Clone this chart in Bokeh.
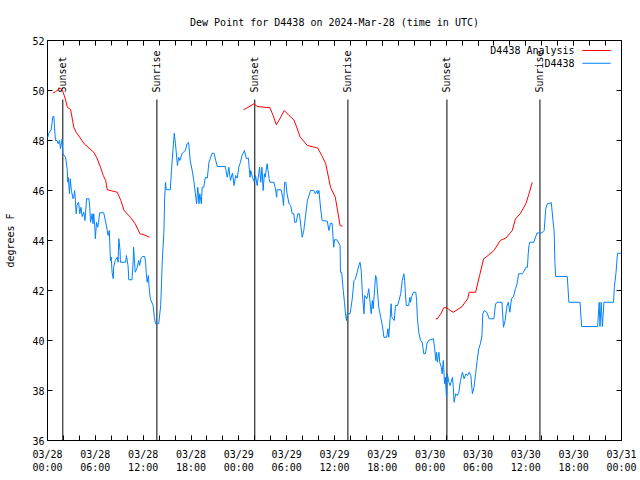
import math
from bokeh.plotting import figure
from bokeh.models import FixedTicker, LinearAxis, Range1d
from bokeh.core.properties import value
from bokeh.embed import file_html
from bokeh.resources import INLINE

NAN = float("nan")

# ---- data (hours since 2024-03-28 00:00 UTC, degrees F) ----
obs_hours = [0.0, 0.16, 0.46, 0.67, 0.8, 0.88, 1.0, 1.2, 1.34, 1.5, 1.63, 1.84, 1.92, 2.26, 2.47, 2.55, 2.6, 2.7,
             2.75, 2.85, 3.0, 3.2, 3.3, 3.4, 3.5, 3.6, 3.7, 3.9, 4.05, 4.2, 4.35, 4.55, 4.7, 4.9, 5.2, 5.3, 5.4,
             5.6, 5.7, 5.8, 5.95, 6.0, 6.15, 6.3, 6.4, 6.55, 7.05, 7.3, 7.5, 7.6, 7.75, 7.9, 8.0, 8.1, 8.25, 8.3,
             8.5, 8.75, 8.85, 8.95, 9.1, 9.15, 9.8, 9.9, 10.1, 10.2, 10.6, 10.75, 10.8, 11.0, 11.2, 11.45, 11.55,
             11.75, 11.9, 12.2, 12.3, 12.4, 12.5, 12.65, 12.75, 12.9, 13.25, 13.4, 13.55, 13.95, 14.2, 14.4, 14.6,
             14.7, 14.8, 14.9, 15.4, 15.55, 15.75, 15.9, 16.05, 16.3, 16.45, 16.6, 16.9, 17.3, 17.5, 17.7, 17.9,
             18.15, 18.35, 18.55, 18.7, 18.85, 19.0, 19.1, 19.3, 19.4, 19.6, 19.8, 20.05, 20.25, 20.65, 20.9, 21.1,
             21.3, 22.3, 22.55, 22.75, 22.95, 23.2, 23.4, 23.6, 23.8, 24.0, 24.2, 24.4, 24.7, 24.95, 25.2, 25.4,
             25.5, 25.7, 25.8, 25.95, 26.1, 26.3, 26.5, 26.6, 26.75, 26.9, 27.05, 27.2, 27.3, 27.55, 27.8, 27.9,
             28.4, 28.6, 28.75, 28.8, 29.3, 29.5, 29.6, 29.75, 29.9, 30.05, 30.3, 30.5, 30.7, 30.9, 31.0, 31.2,
             31.4, 31.6, 31.8, 31.95, 32.15, 32.4, 32.6, 33.0, 33.4, 33.6, 33.8, 33.9, 34.05, 34.25, 34.45, 35.1,
             35.3, 35.5, 35.7, 35.9, 36.0, 36.3, 36.7, 36.75, 36.9, 37.1, 37.25, 37.4, 37.5, 37.6, 37.95, 38.2,
             38.45, 38.6, 38.85, 39.05, 39.2, 39.35, 39.5, 39.7, 39.8, 40.05, 40.15, 40.3, 40.4, 40.6, 40.75,
             40.85, 41.05, 41.15, 41.3, 41.35, 41.55, 41.8, 42.0, 42.2, 42.55, 42.7, 42.8, 42.9, 43.1, 43.2, 43.5,
             43.65, 43.9, 44.1, 44.3, 44.5, 44.7, 44.8, 44.9, 45.0, 45.3, 45.45, 45.55, 45.65, 45.9, 46.2, 46.3,
             46.4, 46.6, 46.8, 47.0, 47.2, 47.4, 47.6, 47.8, 48.4, 48.55, 48.7, 48.8, 48.9, 49.1, 49.2, 49.4,
             49.5, 49.65, 49.8, 49.9, 50.05, 50.15, 50.35, 50.5, 50.8, 50.9, 51.0, 51.2, 51.4, 51.6, 51.8, 52.05,
             52.25, 52.5, 52.7, 52.9, 53.1, 53.3, 53.5, 53.7, 53.9, 54.1, 54.3, 54.5, 54.6, 54.8, 55.1, 55.4,
             56.0, 56.2, 56.5, 57.0, 57.2, 57.4, 57.65, 57.8, 58.0, 58.2, 58.45, 58.7, 58.9, 59.1, 59.55, 59.7,
             60.0, 60.2, 60.3, 60.4, 60.5, 61.0, 61.4, 62.0, 62.3, 62.5, 62.7, 63.2, 63.4, 63.55, 63.65, 63.75,
             65.2, 65.4, 66.8, 67.0, 69.0, 69.2, 69.3, 69.45, 69.6, 69.8, 71.0, 71.1, 71.3, 71.5, 72.0]
obs_dewpt = [48.1, 48.29, 48.43, 48.96, 48.96, 48.53, 48.0, 48.0, 47.87, 48.0, 47.67, 48.07, 47.47, 47.33, 46.87,
             46.33, 46.53, 46.13, 45.87, 46.47, 46.0, 45.67, 45.73, 46.0, 45.6, 45.07, 45.4, 45.53, 45.07, 45.33,
             44.96, 45.13, 44.8, 45.67, 45.67, 45.33, 44.73, 45.07, 44.67, 45.07, 44.47, 44.07, 44.73, 44.53,
             44.73, 45.11, 45.11, 44.73, 44.4, 44.2, 44.4, 43.2, 43.33, 42.73, 42.47, 42.93, 43.2, 43.33, 43.13,
             44.07, 43.6, 43.13, 43.13, 43.4, 43.0, 42.43, 42.43, 43.2, 43.73, 42.73, 42.87, 43.2, 43.0, 43.31,
             43.36, 43.36, 43.13, 42.67, 42.33, 42.6, 42.13, 41.67, 41.4, 40.93, 40.67, 40.67, 41.4, 43.2, 44.33,
             45.73, 46.33, 46.03, 46.03, 46.8, 47.67, 48.29, 47.87, 47.0, 47.33, 47.2, 47.49, 47.6, 47.87, 47.93,
             47.2, 46.8, 46.4, 45.87, 45.47, 46.13, 45.47, 45.87, 45.47, 46.13, 46.13, 46.53, 46.5, 47.13, 47.49,
             47.49, 47.2, 46.96, 46.96, 46.53, 46.93, 46.4, 46.7, 46.2, 46.6, 46.5, 46.93, 47.13, 47.4, 47.6,
             47.27, 47.3, 46.53, 46.8, 46.53, 46.47, 46.33, 46.6, 46.2, 46.67, 46.93, 46.33, 46.93, 46.0, 46.67,
             46.53, 47.07, 46.47, 46.33, 46.33, 46.07, 45.73, 46.03, 46.03, 45.73, 45.4, 46.33, 46.33, 45.87,
             45.47, 45.4, 45.07, 45.07, 44.73, 44.73, 45.07, 45.07, 44.53, 44.13, 44.4, 45.07, 45.6, 46.0, 46.0,
             45.87, 46.0, 45.87, 46.0, 45.3, 44.8, 44.77, 44.4, 44.69, 44.69, 43.73, 44.03, 44.03, 43.8, 42.73,
             42.73, 42.0, 41.53, 41.0, 40.8, 41.07, 41.07, 41.6, 42.4, 42.45, 42.73, 43.0, 43.13, 42.8, 41.87,
             41.07, 41.8, 41.67, 41.8, 42.07, 41.73, 41.07, 41.6, 41.27, 42.13, 42.6, 42.47, 42.13, 41.33, 40.93,
             40.6, 40.13, 40.13, 40.47, 40.13, 40.53, 41.47, 40.93, 40.8, 41.4, 41.4, 41.6, 41.87, 42.4, 42.67,
             42.4, 41.87, 41.4, 41.4, 41.73, 41.53, 41.73, 41.93, 41.93, 41.6, 40.87, 40.27, 40.0, 39.93, 39.47,
             39.47, 39.87, 40.0, 40.07, 39.73, 39.2, 39.53, 39.13, 39.53, 39.13, 38.93, 38.67, 39.2, 38.27, 38.53,
             37.73, 38.67, 38.33, 38.2, 38.53, 38.13, 37.53, 37.87, 37.8, 37.93, 38.4, 38.73, 38.47, 38.67, 38.6,
             38.73, 38.6, 37.87, 38.13, 38.67, 39.2, 39.67, 39.87, 40.2, 41.07, 41.2, 41.13, 40.87, 40.87, 41.47,
             41.53, 41.53, 40.53, 40.8, 41.4, 41.53, 41.13, 41.67, 41.76, 42.07, 42.27, 42.67, 42.67, 42.73, 42.93,
             42.93, 43.47, 43.8, 43.93, 43.93, 44.3, 44.3, 44.4, 45.27, 45.47, 45.51, 44.8, 44.4, 43.07, 42.56,
             42.56, 41.53, 41.53, 40.56, 40.56, 41.53, 40.56, 41.53, 40.56, 41.53, 41.53, 42.13, 42.67, 43.49, 43.49]

ana_hours = [0.67, 1.0, 1.6, 1.9, 2.2, 2.5, 2.9, 3.3, 3.6, 4.1, 4.6, 5.2, 5.8, 6.2, 6.65, 7.0, 7.3, 7.5, 8.75, 9.2,
             9.6, 10.4, 11.0, 11.6, 12.1, 12.8, NAN,
             24.6, 25.0, 25.9, 26.3, 27.9, 28.3, 28.7, 29.2, 29.7, 30.3, 30.9, 31.3, 31.7, 32.6, 33.9, 34.4, 34.9,
             35.5, 36.1, 36.7, 37.0, NAN,
             48.7, 48.9, 49.4, 49.7, 50.1, 50.5, 50.9, 51.5, 52.0, 52.7, 52.9, 53.7, 54.2, 54.7, 55.0, 56.0, 56.8,
             57.5, 58.3, 58.7, 59.3, 60.0, 60.4, 60.8]
ana_dewpt = [49.9, 49.95, 50.1, 49.99, 49.7, 49.33, 49.24, 48.53, 48.33, 48.1, 47.87, 47.7, 47.53, 47.3, 46.93,
             46.6, 46.4, 46.03, 45.93, 45.6, 45.2, 44.93, 44.67, 44.27, 44.23, 44.13, NAN,
             49.23, 49.3, 49.47, 49.36, 49.31, 49.0, 48.63, 48.9, 49.2, 49.0, 48.83, 48.5, 48.13, 47.8, 47.7,
             47.4, 47.07, 46.13, 45.73, 44.6, 44.57, NAN,
             40.87, 40.87, 41.1, 41.31, 41.31, 41.2, 41.13, 41.25, 41.36, 41.67, 41.93, 41.93, 42.6, 43.27, 43.33,
             43.6, 44.0, 44.1, 44.4, 44.87, 45.07, 45.47, 45.87, 46.33]

sun_names = ["Sunset", "Sunrise", "Sunset", "Sunrise", "Sunset", "Sunrise"]
sun_hours = [1.92, 13.72, 26.0, 37.68, 50.1, 61.77]

x_ticks = [0, 6, 12, 18, 24, 30, 36, 42, 48, 54, 60, 66, 72]
x_tick_labels = ["03/28\n00:00", "03/28\n06:00", "03/28\n12:00", "03/28\n18:00", "03/29\n00:00",
                 "03/29\n06:00", "03/29\n12:00", "03/29\n18:00", "03/30\n00:00", "03/30\n06:00",
                 "03/30\n12:00", "03/30\n18:00", "03/31\n00:00"]
x_minor = list(range(0, 73, 2))
y_ticks = [36, 38, 40, 42, 44, 46, 48, 50, 52]

series_names = ["D4438 Analysis", "D4438"]
series_colors = ["#ff0000", "#0080ff"]

FONT = "DejaVu Sans Mono"
FS = "10px"

p = figure(width=640, height=480, x_range=Range1d(0, 72), y_range=Range1d(36, 52),
           output_backend="svg", toolbar_location=None,
           min_border_left=47, min_border_right=19, min_border_top=40, min_border_bottom=40,
           title="Dew Point for D4438 on 2024-Mar-28 (time in UTC)")
p.title.text_font = FONT
p.title.text_font_size = FS
p.title.text_font_style = "normal"
p.title.align = "center"
p.title.text_color = "black"
p.title.standoff = 25
p.xgrid.visible = False
p.ygrid.visible = False
p.outline_line_color = "black"
p.outline_line_alpha = 1.0
p.outline_line_width = 1
p.background_fill_color = "white"
p.border_fill_color = "white"

def style_x(ax, show_labels):
    ax.ticker = FixedTicker(ticks=x_ticks, minor_ticks=x_minor)
    ax.major_tick_in = 5
    ax.major_tick_out = 0
    ax.minor_tick_in = 5
    ax.minor_tick_out = 0
    ax.axis_line_color = None
    ax.major_tick_line_color = "black"
    ax.minor_tick_line_color = "black"
    if show_labels:
        ax.major_label_overrides = {t: l for t, l in zip(x_ticks, x_tick_labels)}
        ax.major_label_text_font = FONT
        ax.major_label_text_font_size = FS
        ax.major_label_text_color = "black"
        ax.major_label_standoff = 8
    else:
        ax.major_label_overrides = {t: "" for t in x_ticks}
        ax.major_label_standoff = 0

def style_y(ax, show_labels):
    ax.ticker = FixedTicker(ticks=y_ticks)
    ax.major_tick_in = 5
    ax.major_tick_out = 0
    ax.minor_tick_line_color = None
    ax.axis_line_color = None
    ax.major_tick_line_color = "black"
    if show_labels:
        ax.major_label_text_font = FONT
        ax.major_label_text_font_size = FS
        ax.major_label_text_color = "black"
        ax.major_label_standoff = 3
    else:
        ax.major_label_overrides = {t: "" for t in y_ticks}
        ax.major_label_standoff = 0

style_x(p.xaxis[0], True)
style_y(p.yaxis[0], True)
p.yaxis[0].axis_label = "degrees F"
p.yaxis[0].axis_label_text_font = FONT
p.yaxis[0].axis_label_text_font_size = FS
p.yaxis[0].axis_label_text_font_style = "normal"
p.yaxis[0].axis_label_text_color = "black"
p.yaxis[0].axis_label_standoff = 13

top_ax = LinearAxis()
style_x(top_ax, False)
p.add_layout(top_ax, "above")
right_ax = LinearAxis()
style_y(right_ax, False)
p.add_layout(right_ax, "right")

# sunrise / sunset markers
p.segment(x0=sun_hours, x1=sun_hours, y0=[36] * len(sun_hours), y1=[49.64] * len(sun_hours),
          line_color="black", line_width=1)
p.text(x=sun_hours, y=[49.92] * len(sun_hours), text=sun_names, angle=math.pi / 2,
       text_align="left", text_baseline="middle", text_font=value(FONT), text_font_size=FS,
       text_color="black")

# data
p.line(obs_hours, obs_dewpt, line_color=series_colors[1], line_width=1)
p.line(ana_hours, ana_dewpt, line_color=series_colors[0], line_width=1)

# gnuplot-style key (text right-aligned, sample line to the right)
key_y = [51.6, 51.09]
p.text(x=[66.12, 66.12], y=key_y, text=series_names, text_align="right", text_baseline="middle",
       text_font=value(FONT), text_font_size=FS, text_color="black")
p.segment(x0=[67.09, 67.09], x1=[70.64, 70.64], y0=key_y, y1=key_y,
          line_color=series_colors, line_width=1)

open("out.html", "w").write(file_html(p, INLINE))
